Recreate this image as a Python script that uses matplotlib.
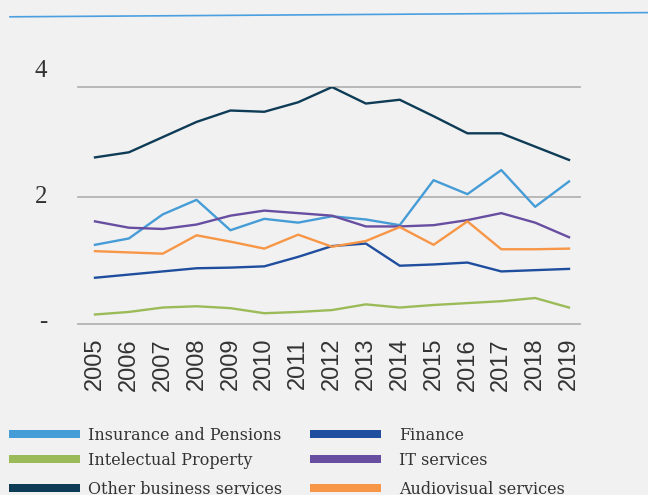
import matplotlib
matplotlib.use("Agg")
import matplotlib.pyplot as plt
from matplotlib.lines import Line2D
from matplotlib.patches import Rectangle
import matplotlib.transforms as mtransforms

# ── Datos ─────────────────────────────────────────────────────────
years = list(range(2005, 2020))

insurance = [1.25, 1.35, 1.73, 1.96, 1.48, 1.66, 1.60, 1.70, 1.65, 1.56, 2.27, 2.05, 2.43, 1.85, 2.25]
finance   = [0.73, 0.78, 0.83, 0.88, 0.89, 0.91, 1.06, 1.23, 1.27, 0.92, 0.94, 0.97, 0.83, 0.85, 0.87]
ip        = [0.15, 0.19, 0.26, 0.28, 0.25, 0.17, 0.19, 0.22, 0.31, 0.26, 0.30, 0.33, 0.36, 0.41, 0.26]
it_serv   = [1.62, 1.52, 1.50, 1.57, 1.71, 1.79, 1.75, 1.71, 1.54, 1.54, 1.56, 1.64, 1.75, 1.60, 1.37]
other     = [2.63, 2.71, 2.95, 3.19, 3.37, 3.35, 3.50, 3.74, 3.48, 3.54, 3.28, 3.01, 3.01, 2.80, 2.59]
audiov    = [1.15, 1.13, 1.11, 1.40, 1.30, 1.19, 1.41, 1.22, 1.31, 1.53, 1.25, 1.62, 1.18, 1.18, 1.19]

labels = ["Insurance and Pensions", "Intelectual Property", "Other business services",
          "Finance", "IT services", "Audiovisual services"]
series = [insurance, ip, other, finance, it_serv, audiov]
colors = ["#469cd6", "#9bbb59", "#0e3b56", "#1f4e9e", "#674ea0", "#f79646"]

W, H = 648, 495
BG = "#f1f1f1"

def fx(x):
    return x / W

def fy(y):
    return 1 - y / H

fig = plt.figure(figsize=(W / 100, H / 100), dpi=100, facecolor=BG)

# línea azul superior
fig.add_artist(Line2D([fx(10), fx(648)], [fy(16.8), fy(12.6)], color="#4a9fe0", lw=1.2))

# ── Ejes ──────────────────────────────────────────────────────────
ax = fig.add_axes([fx(78), fy(324), fx(580) - fx(78), fy(86.7) - fy(324)])
ax.set_facecolor(BG)
ymax = (324 - 86.7) / 63.35
ax.set_ylim(0, ymax)
ax.set_xlim(2005 - 17 / 33.86, 2019 + 11 / 33.86)
for s in ax.spines.values():
    s.set_visible(False)

for yv in [0, 2, ymax]:
    ax.axhline(yv, color="#b4b4b4", lw=1.3, zorder=1, clip_on=False)

for vals, col in zip(series, colors):
    ax.plot(years, vals, color=col, lw=1.7, zorder=3, solid_joinstyle="round")

ax.set_xticks(years)
ax.set_xticklabels([str(y) for y in years], rotation=90, fontsize=17,
                   family="Liberation Sans", color="#333333")
ax.tick_params(axis="x", length=0, pad=10)
ax.set_yticks([])

trans = mtransforms.blended_transform_factory(fig.transFigure, ax.transData)
for yv, txt, xp in [(4, "4", 40.7), (2, "2", 40.7), (0.03, "-", 43)]:
    ax.text(fx(xp), yv, txt, transform=trans, ha="center", va="center",
            fontsize=18, family="Liberation Serif", color="#333333", clip_on=False)

# ── Leyenda ───────────────────────────────────────────────────────
rows_y = [434, 459, 488]
cols = [(9, 88), (310, 399)]
for i, (lab, col) in enumerate(zip(labels, colors)):
    c, r = divmod(i, 3)
    px, tx = cols[c]
    yc = rows_y[r]
    fig.add_artist(Rectangle((fx(px), fy(yc + 3.8)), fx(71), 7.6 / H,
                             transform=fig.transFigure, color=col, lw=0))
    fig.text(fx(tx), fy(yc + 1.5), lab, ha="left", va="center", fontsize=11.5,
             family="DejaVu Serif", color="#333333")

fig.savefig("out.png", dpi=100, facecolor=BG)
